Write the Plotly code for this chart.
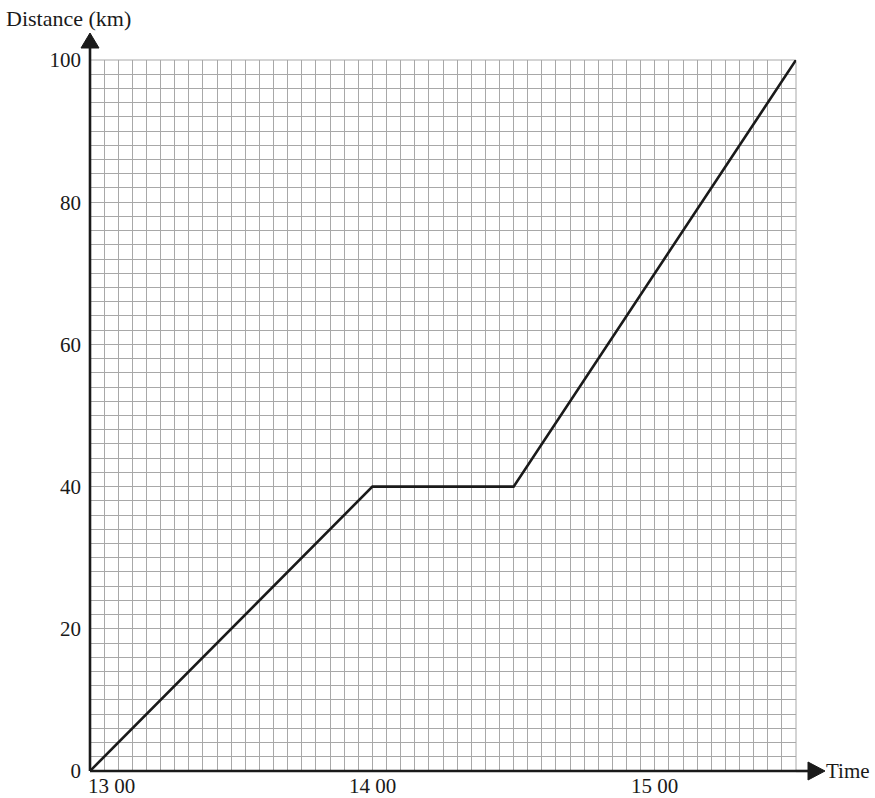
import plotly.graph_objects as go

# Data: minutes after 13:00 and distance in km
time_min = [0, 60, 90, 150]
distance_km = [0, 40, 40, 100]

x_tick_vals = [0, 60, 120]
x_tick_text = ["13 00", "14 00", "15 00"]
y_tick_vals = [0, 20, 40, 60, 80, 100]
y_tick_text = ["0", "20", "40", "60", "80", "100"]

FONT = "Liberation Serif"
GRID = "#a8a8a8"
INK = "#1a1a1a"
FS = 21

fig = go.Figure()
fig.add_trace(go.Scatter(x=time_min, y=distance_km, mode="lines",
                         line=dict(color=INK, width=2.6),
                         hoverinfo="skip", showlegend=False))

fig.update_layout(
    width=875, height=798,
    margin=dict(l=90, r=79, t=60, b=27),
    paper_bgcolor="white", plot_bgcolor="white",
    font=dict(family=FONT, size=FS, color=INK),
    xaxis=dict(range=[0, 150], tickmode="array", tickvals=x_tick_vals,
               ticktext=["", "", ""], showgrid=True, gridcolor=GRID, gridwidth=1,
               minor=dict(dtick=3, tick0=0, showgrid=True, gridcolor=GRID, gridwidth=1),
               zeroline=False, showline=False, fixedrange=True),
    yaxis=dict(range=[0, 100], tickmode="array", tickvals=y_tick_vals,
               ticktext=y_tick_text, showgrid=True, gridcolor=GRID, gridwidth=1,
               minor=dict(dtick=2, tick0=0, showgrid=True, gridcolor=GRID, gridwidth=1),
               zeroline=False, showline=False, ticks="", ticklabelstandoff=8,
               tickfont=dict(family=FONT, size=FS, color=INK), fixedrange=True),
)

# outer frame (top & right) in grid colour
fig.add_shape(type="rect", xref="paper", yref="paper", x0=0, x1=1, y0=0, y1=1,
              line=dict(color=GRID, width=1), layer="below")

# axes lines with arrows
fig.add_shape(type="line", xref="paper", yref="paper", x0=0, x1=0, y0=0, y1=1,
              line=dict(color=INK, width=2.6))
fig.add_shape(type="line", xref="paper", yref="paper", x0=0, x1=0, y0=0, y1=14,
              ysizemode="pixel", yanchor=1, line=dict(color=INK, width=2.6))
fig.add_shape(type="line", xref="paper", yref="paper", x0=0, x1=1, y0=0, y1=0,
              line=dict(color=INK, width=2.6))
fig.add_shape(type="line", xref="paper", yref="paper", x0=0, x1=14, y0=0, y1=0,
              xsizemode="pixel", xanchor=1, line=dict(color=INK, width=2.6))
# arrow heads (pixel-sized paths)
fig.add_shape(type="path", xref="paper", yref="paper", xsizemode="pixel", ysizemode="pixel",
              xanchor=0, yanchor=1,
              path="M -9 12 L 9 12 L 0 27 Z", fillcolor=INK,
              line=dict(color=INK, width=1))
fig.add_shape(type="path", xref="paper", yref="paper", xsizemode="pixel", ysizemode="pixel",
              xanchor=1, yanchor=0,
              path="M 12 -9 L 12 9 L 29 0 Z", fillcolor=INK,
              line=dict(color=INK, width=1))

# x tick labels
for v, t in zip(x_tick_vals, x_tick_text):
    fig.add_annotation(x=v, y=0, xref="x", yref="y", text=t, showarrow=False,
                       xanchor="left" if v == 0 else "center", yanchor="top",
                       xshift=-4 if v == 0 else 0, yshift=-1,
                       font=dict(family=FONT, size=FS, color=INK))

fig.add_annotation(x=1, y=0, xref="paper", yref="paper", text="Time", showarrow=False,
                   xanchor="left", yanchor="middle", xshift=28,
                   font=dict(family=FONT, size=FS, color=INK))
fig.add_annotation(x=0, y=1, xref="paper", yref="paper", text="Distance (km)",
                   showarrow=False, xanchor="left", yanchor="middle",
                   xshift=-86, yshift=42,
                   font=dict(family=FONT, size=22, color=INK))

fig.write_html("out.html", config={"displayModeBar": False, "staticPlot": True},
               post_script="document.body.style.margin='0';document.body.style.overflow='hidden';")
